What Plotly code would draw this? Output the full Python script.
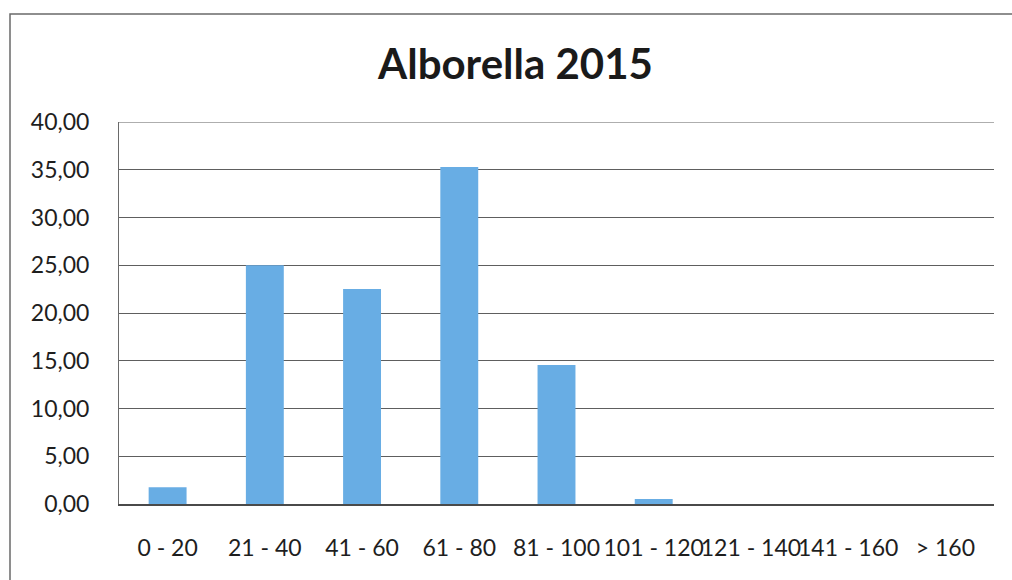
import plotly.graph_objects as go

# Length classes (mm) and percentage of fish in each class
categories = ["0 - 20", "21 - 40", "41 - 60", "61 - 80", "81 - 100",
              "101 - 120", "121 - 140", "141 - 160", "> 160"]
percentages = [1.75, 25.0, 22.5, 35.3, 14.55, 0.52, 0.0, 0.0, 0.0]

y_tick_values = [0, 5, 10, 15, 20, 25, 30, 35, 40]
y_tick_labels = ["0,00", "5,00", "10,00", "15,00", "20,00",
                 "25,00", "30,00", "35,00", "40,00"]

W, H = 1012, 580
ML, MR, MT, MB = 119, 18, 122, 76
plot_w = W - ML - MR
plot_h = H - MT - MB

FONT = "Lato, 'Open Sans', sans-serif"

fig = go.Figure(
    go.Bar(
        x=categories,
        y=percentages,
        marker=dict(color="#68ADE4", line=dict(width=0)),
        hoverinfo="x+y",
    )
)


def px_x(p):
    return (p - ML) / plot_w


def px_y(p):
    return (H - MB - p) / plot_h


# outer chart frame (extends past the right and bottom edges)
fig.add_shape(type="rect", xref="paper", yref="paper",
              x0=px_x(10), x1=px_x(1040), y0=px_y(600), y1=px_y(14),
              line=dict(color="#6a6a6a", width=1.5), layer="below")

# gridline at the top of the value axis
fig.add_shape(type="line", xref="paper", yref="y",
              x0=0, x1=1, y0=y_tick_values[-1], y1=y_tick_values[-1],
              line=dict(color="#5e5e5e", width=1.2), layer="below")

fig.update_layout(
    width=W, height=H,
    margin=dict(l=ML, r=MR, t=MT, b=MB, pad=0),
    paper_bgcolor="white",
    plot_bgcolor="white",
    bargap=0.61,
    showlegend=False,
    title=dict(text="<b>Alborella 2015</b>", x=px_x(515.5), xref="paper",
               xanchor="center", y=1 - 64 / H, yanchor="middle",
               font=dict(family=FONT, size=42, color="#1a1a1a")),
    font=dict(family=FONT, color="#222222"),
)

fig.update_xaxes(
    type="category",
    tickangle=0,
    tickfont=dict(size=23, color="#1e1e1e"),
    showline=True, linecolor="#4a4a4a", linewidth=1.5,
    showgrid=False,
    ticks="", ticklabelstandoff=23,
)

fig.update_yaxes(
    range=[0, 40],
    tickvals=y_tick_values,
    ticktext=y_tick_labels,
    tickfont=dict(size=23, color="#1e1e1e"),
    showgrid=True, gridcolor="#5e5e5e", gridwidth=1.2,
    showline=True, linecolor="#6a6a6a", linewidth=1,
    zeroline=False,
    ticks="", ticklabelstandoff=24,
)

fig.write_html("out.html")
